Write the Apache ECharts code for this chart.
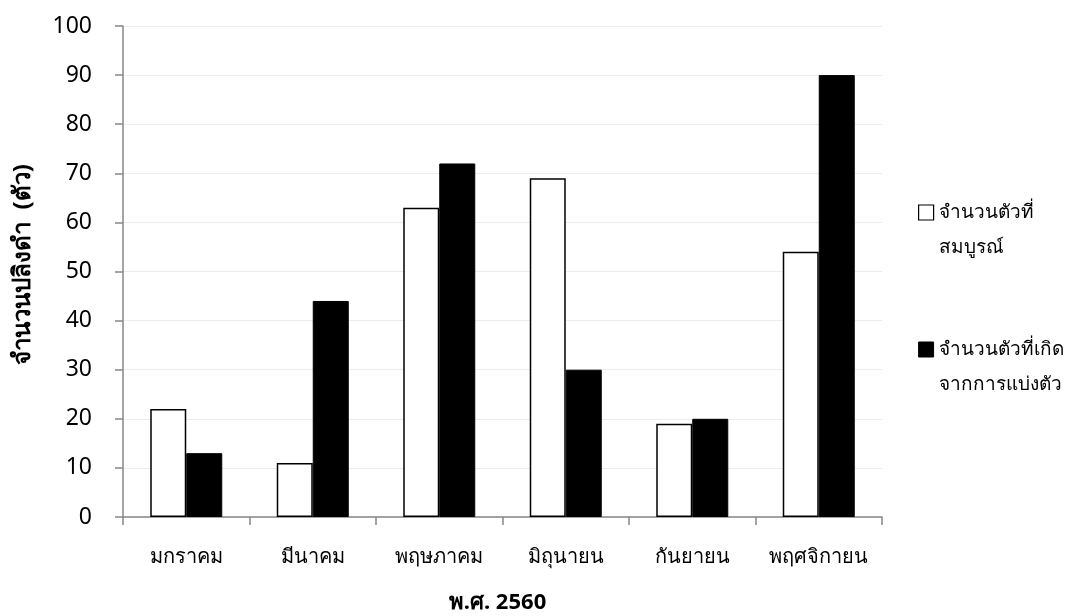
<!DOCTYPE html>
<html>
<head>
<meta charset="utf-8">
<script src="https://cdn.jsdelivr.net/npm/echarts@6/dist/echarts.min.js"></script>
<style>html,body{margin:0;padding:0;background:#fff}#c{width:1065px;height:616px}</style>
</head>
<body>
<div id="c"></div>
<script>
const categories = ['มกราคม', 'มีนาคม', 'พฤษภาคม', 'มิถุนายน', 'กันยายน', 'พฤศจิกายน'];
const seriesNames = ['จำนวนตัวที่\nสมบูรณ์', 'จำนวนตัวที่เกิด\nจากการแบ่งตัว'];
const completeValues = [22, 11, 63, 69, 19, 54];
const dividedValues = [13, 44, 72, 30, 20, 90];
const yTicks = { min: 0, max: 100, interval: 10 };

const FONT = '"Noto Sans", "DejaVu Sans", sans-serif';
const chart = echarts.init(document.getElementById('c'));
chart.setOption({
  animation: false,
  backgroundColor: '#fff',
  grid: { left: 123, top: 26, right: 183, bottom: 99, containLabel: false, outerBoundsMode: 'none' },
  legend: {
    orient: 'vertical',
    left: 913,
    top: 155,
    itemWidth: 15,
    itemHeight: 15,
    itemGap: 32,
    icon: 'rect',
    formatter: function (name) { return '\n' + name; },
    data: [
      { name: seriesNames[0], itemStyle: { color: '#fff', borderColor: '#000', borderWidth: 1.2 } },
      { name: seriesNames[1], itemStyle: { color: '#000', borderColor: '#000', borderWidth: 1 } }
    ],
    textStyle: { fontFamily: FONT, fontSize: 19, color: '#000', lineHeight: 35 }
  },
  xAxis: {
    type: 'category',
    data: categories,
    name: 'พ.ศ. 2560',
    nameLocation: 'middle',
    nameGap: 75,
    nameTextStyle: { fontFamily: FONT, fontSize: 22, fontWeight: 'bold', color: '#000', padding: [0, 10, 0, 0] },
    axisLine: { lineStyle: { color: '#878787', width: 1.5 } },
    axisTick: { show: true, interval: 0, length: 8, lineStyle: { color: '#878787', width: 1.5 } },
    axisLabel: { interval: 0, hideOverlap: false, fontFamily: FONT, fontSize: 20, color: '#000', margin: 30 },
    splitLine: { show: false }
  },
  yAxis: {
    type: 'value',
    min: yTicks.min,
    max: yTicks.max,
    interval: yTicks.interval,
    name: 'จำนวนปลิงดำ  (ตัว)',
    nameLocation: 'middle',
    nameGap: 88,
    nameRotate: 90,
    nameTextStyle: { fontFamily: FONT, fontSize: 24, fontWeight: 'bold', color: '#000', padding: [0, 0, 0, 14] },
    axisLine: { show: true, lineStyle: { color: '#878787', width: 1.5 } },
    axisTick: { show: true, length: 8, lineStyle: { color: '#878787', width: 1.5 } },
    axisLabel: { fontFamily: FONT, fontSize: 23, color: '#000', margin: 31 },
    splitLine: { show: true, lineStyle: { color: '#ececec', width: 1.2 } }
  },
  series: [
    {
      name: seriesNames[0],
      type: 'bar',
      data: completeValues,
      barWidth: 36,
      barGap: '0%',
      itemStyle: { color: '#fff', borderColor: '#000', borderWidth: 1.5 }
    },
    {
      name: seriesNames[1],
      type: 'bar',
      data: dividedValues,
      barWidth: 36,
      barGap: '0%',
      itemStyle: { color: '#000', borderColor: '#000', borderWidth: 1 }
    }
  ]
});
</script>
</body>
</html>
